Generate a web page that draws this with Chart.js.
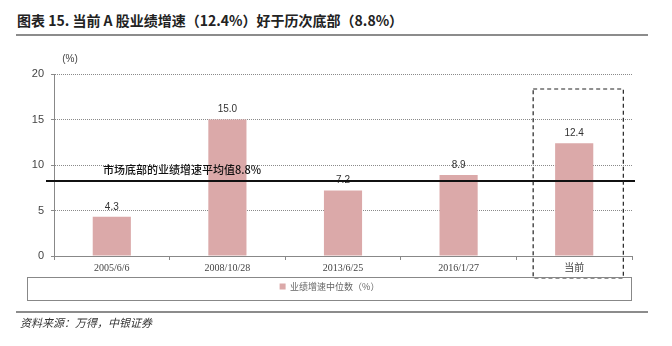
<!DOCTYPE html>
<html>
<head>
<meta charset="utf-8">
<script src="https://cdn.jsdelivr.net/npm/chart.js@4"></script>
<style>
  body { margin: 0; background: #fff; }
  #wrap { position: relative; width: 672px; height: 346px; overflow: hidden; }
  #chart { position: absolute; left: 0; top: 0; }
  #title { position: absolute; left: 17px; top: 10px; font: bold 14px "Noto Sans CJK SC", Arial, sans-serif; color: #222; white-space: nowrap; }
  .rule { position: absolute; left: 16px; width: 632px; height: 2px; background: #8c8c8c; }
  #source { position: absolute; left: 20px; top: 314px; font: italic 11px "Noto Sans CJK SC", serif; color: #333; white-space: nowrap; }
</style>
</head>
<body>
<div id="wrap">
  <div id="title">图表 15. 当前 A 股业绩增速（12.4%）好于历次底部（8.8%）</div>
  <div class="rule" style="top:34px"></div>
  <canvas id="chart" width="672" height="346"></canvas>
  <div class="rule" style="top:311px"></div>
  <div id="source">资料来源：万得，中银证券</div>
</div>
<script>
// categories and values
const dates = ['2005/6/6', '2008/10/28', '2013/6/25', '2016/1/27', '当前'];
const growth = [4.3, 15.0, 7.2, 8.9, 12.4];
const seriesName = '业绩增速中位数（%）';
// the black line sits a bit under 8.8 in the picture
const avgLine = 8.25;
const avgText = '市场底部的业绩增速平均值8.8%';
const yTicks = [0, 5, 10, 15, 20];

const barColor = '#dba9a9';

//  value labels, average line, dashed box on "当前", unit label
const extras = {
    id: 'extras',
    afterDatasetsDraw(chart) {
        const { ctx, chartArea, scales: { x, y } } = chart;
        const meta = chart.getDatasetMeta(0);
        ctx.save();

        ctx.font = '10px Arial';
        ctx.fillStyle = '#333';
        ctx.textAlign = 'center';
        ctx.textBaseline = 'middle';
        meta.data.forEach((bar, i) => {
            ctx.fillText(growth[i].toFixed(1), bar.x, bar.y - 10);
        });

        // average line
        const ay = y.getPixelForValue(avgLine);
        ctx.strokeStyle = '#111';
        ctx.lineWidth = 2;
        ctx.beginPath();
        ctx.moveTo(chartArea.left - 8, ay);
        ctx.lineTo(chartArea.right + 3, ay);
        ctx.stroke();

        ctx.font = '500 11px "Noto Sans CJK SC", serif';
        ctx.fillStyle = '#111';
        ctx.textAlign = 'left';
        ctx.fillText(avgText, chartArea.left + 49, ay - 11);

        // dashed box round the last category
        const cw = (chartArea.right - chartArea.left) / dates.length;
        const cx = x.getPixelForValue(dates.length - 1);
        const bx1 = cx - 0.355 * cw, bx2 = cx + 0.425 * cw;
        const by1 = y.getPixelForValue(18.35), by2 = chartArea.bottom + 22;
        ctx.setLineDash([4, 3]);
        ctx.lineWidth = 1.2;
        ctx.strokeStyle = '#222';
        ctx.strokeRect(bx1, by1, bx2 - bx1, by2 - by1);
        ctx.setLineDash([]);

        // unit
        ctx.font = '10px Arial';
        ctx.fillStyle = '#444';
        ctx.textAlign = 'center';
        ctx.fillText('(%)', chartArea.left + 16, chartArea.top - 15);
        ctx.restore();
    },
    afterDraw(chart) {
        const lg = chart.legend;
        const ctx = chart.ctx;
        ctx.save();
        ctx.strokeStyle = '#888';
        ctx.lineWidth = 1;
        ctx.strokeRect(lg.left + 0.5, lg.top + 0.5, lg.width - 1, lg.height - 1);
        ctx.restore();
    }
};

new Chart(document.getElementById('chart'), {
    type: 'bar',
    data: {
        labels: dates,
        datasets: [{
            label: seriesName,
            data: growth,
            backgroundColor: barColor,
            borderWidth: 0,
            barPercentage: 0.33,
            categoryPercentage: 1.0
        }]
    },
    options: {
        responsive: false,
        animation: false,
        layout: { padding: { left: 27, right: 40, top: 74, bottom: 45 } },
        plugins: {
            tooltip: { enabled: false },
            legend: {
                position: 'bottom',
                labels: {
                    boxWidth: 6,
                    boxHeight: 6,
                    padding: 5,
                    color: '#666',
                    font: { size: 9, family: '"Noto Sans CJK SC", serif' }
                }
            }
        },
        scales: {
            x: {
                afterFit(s) { s.height = 21; },
                grid: { display: true, drawOnChartArea: false, drawTicks: true, tickLength: 4, color: '#888', offset: true },
                border: { color: '#888', width: 1 },
                ticks: {
                    color: '#444',
                    padding: 2,
                    maxRotation: 0,
                    autoSkip: false,
                    font: { size: 10, family: '"Liberation Serif", "Noto Sans CJK SC", serif' }
                }
            },
            y: {
                min: 0,
                max: 20,
                afterFit(s) { s.width = 27; },
                afterBuildTicks(s) { s.ticks = yTicks.map(v => ({ value: v })); },
                grid: { color: '#8a8a8a', tickLength: 3, drawTicks: true },
                border: { color: '#888', width: 1, dash: [1, 1] },
                ticks: {
                    color: '#444',
                    padding: 7,
                    font: { size: 11, family: 'Arial, "Liberation Sans", sans-serif' }
                }
            }
        }
    },
    plugins: [extras]
});
</script>
</body>
</html>
